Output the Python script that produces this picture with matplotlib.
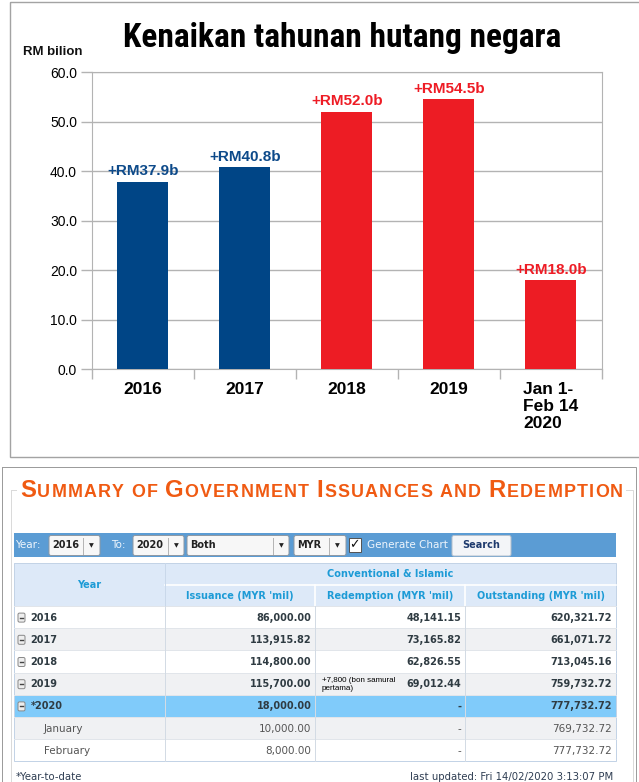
"""Annual rise in federal debt (bar chart) above the BNM issuance summary table."""

import matplotlib

matplotlib.use("Agg")
import matplotlib.pyplot as plt
from matplotlib import font_manager
from matplotlib.font_manager import FontProperties
from matplotlib.ft2font import FT2Font
from matplotlib.patches import FancyBboxPatch, Rectangle
from matplotlib.transforms import ScaledTranslation

W, H = 639, 782
PX = 0.72  # one pixel in points at dpi 100

# --- bar chart data ---
periods = ["2016", "2017", "2018", "2019", "Jan 1-\nFeb 14\n2020"]
increase_rm_bn = [37.9, 40.8, 52.0, 54.5, 18.0]
govt = ["BN", "BN", "PH", "PH", "PH"]
y_ticks = [0, 10, 20, 30, 40, 50, 60]
chart_title = "Kenaikan tahunan hutang negara"
y_unit = "RM bilion"

# --- table data ---
table_title = [("S", "UMMARY"), ("", "OF"), ("G", "OVERNMENT"),
               ("I", "SSUANCES"), ("", "AND"), ("R", "EDEMPTION")]
row_labels = ["2016", "2017", "2018", "2019", "*2020", "January", "February"]
issuance = ["86,000.00", "113,915.82", "114,800.00", "115,700.00",
            "18,000.00", "10,000.00", "8,000.00"]
redemption = ["48,141.15", "73,165.82", "62,826.55", "69,012.44", "-", "-", "-"]
outstanding = ["620,321.72", "661,071.72", "713,045.16", "759,732.72",
               "777,732.72", "769,732.72", "777,732.72"]
row_kind = ["year", "year", "year", "year", "ytd", "month", "month"]
col_headers = ["Issuance (MYR 'mil)", "Redemption (MYR 'mil)", "Outstanding (MYR 'mil)"]
group_header = "Conventional & Islamic"
redemption_note = "+7,800 (bon samural\npertama)"
note_row = 3
toolbar = [("2016", 49, 100, 83), ("2020", 133, 184, 168),
           ("Both", 187, 289, 273), ("MYR", 294, 346, 329)]
footer_left = "*Year-to-date"
footer_right = "last updated: Fri 14/02/2020 3:13:07 PM"

GOVT_COLOR = {"BN": "#004586", "PH": "#ed1c24"}
LABEL_COLOR = {"BN": "#0d4a8a", "PH": "#ee1c25"}
CHART_FONT = "Liberation Sans"
TABLE_FONT = "DejaVu Sans"

_installed = {f.name for f in font_manager.fontManager.ttflist}
NARROW = next((n for n in ("Liberation Sans Narrow", "Arial Narrow",
                           "Roboto Condensed", "DejaVu Sans Condensed")
               if n in _installed), CHART_FONT)

fig = plt.figure(figsize=(W / 100, H / 100), dpi=100)
renderer = fig.canvas.get_renderer()

# pixel-space overlay for frames, titles and the table
bg = fig.add_axes([0, 0, 1, 1])
bg.set_xlim(0, W)
bg.set_ylim(H, 0)
bg.axis("off")

# ---------------- top panel ----------------
bg.add_patch(Rectangle((9.5, 1.5), 645, 455.5, fill=False, ec="#a3a3a3", lw=1.0))

t = bg.text(342, 47, chart_title, family=NARROW, weight="bold", fontsize=24,
            ha="center", va="baseline", color="black")
w = t.get_window_extent(renderer).width
if w > 445:
    t.set_fontsize(24 * 440 / w)
bg.text(23, 52, y_unit, family=CHART_FONT, weight="bold", fontsize=9.5,
        ha="left", va="center", color="#111111")

ax = fig.add_axes([91.7 / W, 1 - 369 / H, (602 - 91.7) / W, (369 - 72.3) / H])
x = list(range(len(periods)))
ax.bar(x, increase_rm_bn, width=0.5, color=[GOVT_COLOR[g] for g in govt], zorder=3)
for i, (v, g) in enumerate(zip(increase_rm_bn, govt)):
    ax.annotate(f"+RM{v:.1f}b", (i, v), xytext=(0, 2.5), textcoords="offset points",
                ha="center", va="bottom", family=CHART_FONT, weight="bold",
                fontsize=11, color=LABEL_COLOR[g], zorder=4)
ax.set_xlim(-0.5, len(periods) - 0.5)
ax.set_ylim(0, 60)
ax.set_yticks(y_ticks)
ax.set_yticklabels([f"{v:.1f}" for v in y_ticks], family=CHART_FONT, fontsize=10)
ax.set_xticks(x)
ax.set_xticklabels(periods, family=CHART_FONT, fontsize=12.5, weight="bold")
last = ax.get_xticklabels()[-1]
last.set_multialignment("left")
last.set_transform(last.get_transform() + ScaledTranslation(5 / 100, 0, fig.dpi_scale_trans))
ax.set_xticks([i - 0.5 for i in range(len(periods) + 1)], minor=True)
ax.tick_params(axis="x", which="major", length=0, pad=9)
ax.tick_params(axis="x", which="minor", length=7, color="#b3b3b3", width=1)
ax.tick_params(axis="y", length=8, color="#b3b3b3", width=1, pad=2.5)
ax.grid(axis="y", color="#b3b3b3", lw=1)
ax.set_axisbelow(True)
for s in ax.spines.values():
    s.set_color("#b3b3b3")

# ---------------- bottom panel ----------------
bg.add_patch(Rectangle((1.5, 466.5), 634, 330, fill=False, ec="#9c9c9c", lw=PX))
bg.add_patch(Rectangle((10.5, 489.5), 622.5, 300, fill=False, ec="#dadada", lw=PX))
bg.add_patch(Rectangle((17, 476), 609, 24, fc="white", ec="none", zorder=2))

# small-caps title with letter tracking to fill its width
_ft_cache = {}


def advance_px(ch, size):
    prop = FontProperties(family=CHART_FONT, weight="bold", size=size)
    path = font_manager.findfont(prop)
    font = _ft_cache.setdefault(path, FT2Font(path))
    font.set_size(size, 100)
    glyph = font.load_char(ord(ch))
    return glyph.linearHoriAdvance / 65536


BIG, SMALL = 17.2, 12.9
pieces = []
for first, rest in table_title:
    pieces += [(c, BIG) for c in first] + [(c, SMALL) for c in rest] + [(" ", SMALL)]
pieces.pop()
widths = [advance_px(c, s) for c, s in pieces]
track = (603 - sum(widths)) / (len(pieces) - 1)
tx = 20
for (c, s), cw in zip(pieces, widths):
    if c != " ":
        bg.text(tx, 497, c, family=CHART_FONT, weight="bold", fontsize=s,
                ha="left", va="baseline", color="#f05a12", zorder=3)
    tx += cw + track

# toolbar
TB_TOP, TB_BOT = 533, 557
mid = (TB_TOP + TB_BOT) / 2
bg.add_patch(Rectangle((13.5, TB_TOP), 602.5, TB_BOT - TB_TOP, fc="#5b9cd4", ec="none"))
for s, lx in (("Year:", 15), ("To:", 111), ("Generate Chart", 367)):
    bg.text(lx, mid, s, family=TABLE_FONT, fontsize=7.5, ha="left", va="center",
            color="#eef5fc")
for s, x0, x1, split in toolbar:
    bg.add_patch(FancyBboxPatch((x0, 535.5), x1 - x0, 20,
                                boxstyle="round,pad=0,rounding_size=2",
                                fc="#f7f7f7", ec="#8e99a4", lw=PX))
    bg.plot([split, split], [537.5, 553.5], color="#b5b5b5", lw=PX)
    bg.text(x0 + 3.5, mid, s, family=TABLE_FONT, weight="bold", fontsize=7,
            ha="left", va="center", color="#222222")
    bg.text((split + x1) / 2, mid + 0.5, "\u25bc", family=TABLE_FONT, fontsize=4.5,
            ha="center", va="center", color="#222222")
bg.add_patch(Rectangle((348.5, 537.5), 12, 14, fc="white", ec="#555555", lw=PX))
bg.text(354.5, 544.5, "\u2713", family=TABLE_FONT, fontsize=9, ha="center",
        va="center", color="#111111")
bg.add_patch(FancyBboxPatch((452, 535.5), 59, 20.5, boxstyle="round,pad=0,rounding_size=2",
                            fc="#f3f5f8", ec="#b3bfcc", lw=PX))
bg.text(481.5, mid, "Search", family=TABLE_FONT, weight="bold", fontsize=7,
        ha="center", va="center", color="#1f3b6e")

# table
cols = [13.5, 165, 315.4, 465.4, 616]
HDR = [563, 584.5, 606]
ROW_H = 22.2
HEAD_COLOR = "#1d9bd6"
bg.add_patch(Rectangle((cols[0], HDR[0]), cols[-1] - cols[0], HDR[2] - HDR[0],
                       fc="#dde9f8", ec="none"))
bg.plot([cols[1], cols[-1]], [HDR[1], HDR[1]], color="white", lw=1.2)
bg.plot([cols[1], cols[1]], [HDR[0], HDR[2]], color="#c9d8ea", lw=PX)
for cx in cols[2:4]:
    bg.plot([cx, cx], [HDR[1], HDR[2]], color="white", lw=1.2)
bg.text((cols[0] + cols[1]) / 2, (HDR[0] + HDR[2]) / 2, "Year", family=TABLE_FONT,
        weight="bold", fontsize=7, ha="center", va="center", color=HEAD_COLOR)
bg.text((cols[1] + cols[-1]) / 2, (HDR[0] + HDR[1]) / 2, group_header,
        family=TABLE_FONT, weight="bold", fontsize=7, ha="center", va="center",
        color=HEAD_COLOR)
for j, h in enumerate(col_headers):
    bg.text((cols[j + 1] + cols[j + 2]) / 2, (HDR[1] + HDR[2]) / 2 + 0.5, h,
            family=TABLE_FONT, weight="bold", fontsize=7, ha="center", va="center",
            color=HEAD_COLOR)

for i, lab in enumerate(row_labels):
    top = HDR[2] + i * ROW_H
    kind = row_kind[i]
    fill = "#80cbfa" if kind == "ytd" else ("#f0f1f3" if i % 2 else "white")
    bg.add_patch(Rectangle((cols[0], top), cols[-1] - cols[0], ROW_H, fc=fill, ec="none"))
    bg.plot([cols[0], cols[-1]], [top, top], color="#e1e5ea", lw=PX)
    yc = top + ROW_H / 2 + 0.5
    bold = kind != "month"
    color = "#2f3b42" if bold else "#555555"
    weight = "bold" if bold else "normal"
    size = 7 if bold else 7.5
    if bold:
        bg.add_patch(FancyBboxPatch((18, yc - 4.5), 7, 9,
                                    boxstyle="round,pad=0,rounding_size=1.5",
                                    fc="#eeeeee", ec="#8a8a8a", lw=PX))
        bg.plot([19.8, 23.2], [yc, yc], color="#444444", lw=1.0)
        bg.text(30.5, yc, lab, family=TABLE_FONT, weight=weight, fontsize=size,
                ha="left", va="center", color=color)
    else:
        bg.text(43.6, yc, lab, family=TABLE_FONT, fontsize=size, ha="left",
                va="center", color=color)
    for j, val in enumerate((issuance[i], redemption[i], outstanding[i])):
        bg.text(cols[j + 2] - 3.8, yc, val, family=TABLE_FONT, weight=weight,
                fontsize=size, ha="right", va="center", color=color)
    if i == note_row:
        bg.text(322, yc, redemption_note, family=CHART_FONT, fontsize=5.8,
                ha="left", va="center", color="black", linespacing=1.2)

body_bot = HDR[2] + len(row_labels) * ROW_H
for cx in cols[1:4]:
    bg.plot([cx, cx], [HDR[2], body_bot], color="#d3dbe4", lw=PX)
bg.add_patch(Rectangle((cols[0], HDR[0]), cols[-1] - cols[0], body_bot - HDR[0],
                       fill=False, ec="#c3d3e6", lw=PX))

bg.text(15.5, 776.5, footer_left, family=TABLE_FONT, fontsize=7.3, ha="left",
        va="center", color="#2e3d52")
bg.text(613, 776.5, footer_right, family=TABLE_FONT, fontsize=7.3, ha="right",
        va="center", color="#2e3d52")

fig.savefig("out.png", dpi=100)
